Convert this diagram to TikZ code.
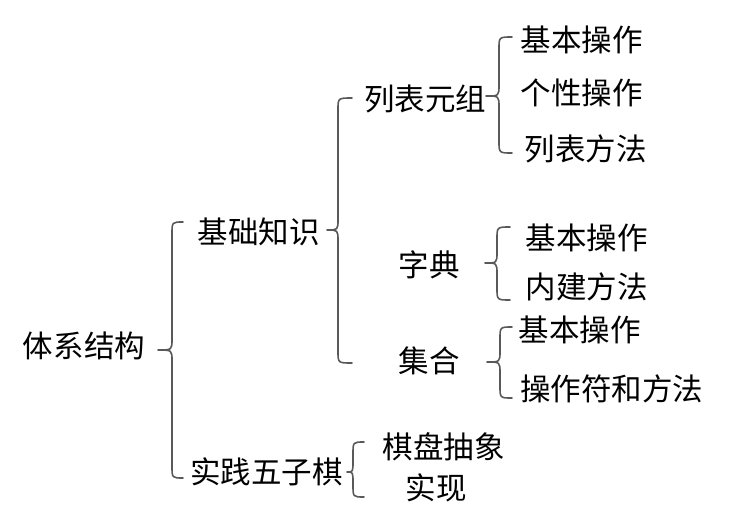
\documentclass[tikz,border=0pt]{standalone}
\usepackage{fontspec}
\newfontfamily\cjk{Noto Sans CJK SC}
\tikzset{
  lbl/.style={anchor=base, inner sep=0pt, font=\cjk\fontsize{30.5}{36}\selectfont},
  brc/.style={draw=black!65, line width=1.6pt, line cap=round, line join=round}
}
% tip x, tip y, vertical x, top y, bottom y, curl x
\newcommand\mybrace[6]{%
  \path[brc] (#6,#4) .. controls (#3,#4) .. ({#3},{#4+12}) -- ({#3},{#2-11})
    .. controls (#3,#2) .. (#1,#2) .. controls (#3,#2) .. ({#3},{#2+11})
    -- ({#3},{#5-12}) .. controls (#3,#5) .. (#6,#5);}
\begin{document}
\begin{tikzpicture}[x=1pt,y=-1pt]
\useasboundingbox (0,0) rectangle (736,530);
\node[lbl] (root) at (84,357) {体系结构};
\node[lbl] (jc) at (258.5,243) {基础知识};
\node[lbl] (sj) at (266.5,483) {实践五子棋};
\node[lbl] (lb) at (425,110) {列表元组};
\node[lbl] (lb1) at (581.5,51) {基本操作};
\node[lbl] (lb2) at (581.5,104) {个性操作};
\node[lbl] (lb3) at (585.5,160) {列表方法};
\node[lbl] (zd) at (429,276) {字典};
\node[lbl] (zd1) at (586.5,249) {基本操作};
\node[lbl] (zd2) at (586.5,298) {内建方法};
\node[lbl] (jh) at (429,372) {集合};
\node[lbl] (jh1) at (579.5,341) {基本操作};
\node[lbl] (jh2) at (611.5,400) {操作符和方法};
\node[lbl] (qp) at (443.5,458) {棋盘抽象};
\node[lbl] (sx) at (436,499) {实现};
\mybrace{158}{350}{172}{222}{478}{183}
\mybrace{327}{230}{338}{98}{363}{352}
\mybrace{486}{96}{499}{37}{153}{512}
\mybrace{485}{263}{497}{227}{300}{510}
\mybrace{487}{362}{500}{327}{398}{512}
\mybrace{347}{472}{353}{442}{497}{364}
\end{tikzpicture}
\end{document}
